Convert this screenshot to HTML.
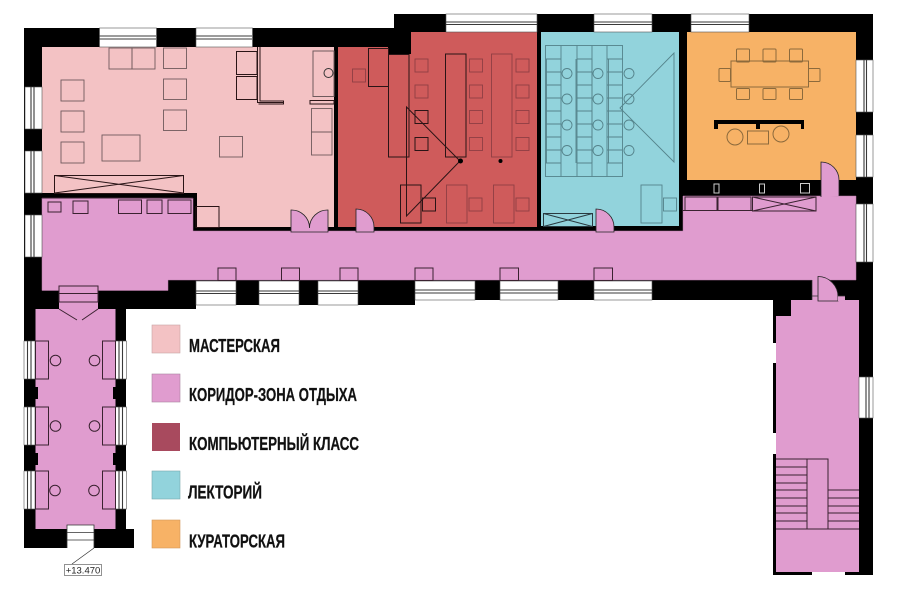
<!DOCTYPE html>
<html><head><meta charset="utf-8"><style>
html,body{margin:0;padding:0;background:#fff;width:900px;height:601px;overflow:hidden}
svg{display:block}
.w{fill:#fff;stroke:#555;stroke-width:.6}
.l{stroke:#3a3a3a;stroke-width:1.1;fill:none}
.m rect,.m circle,.m path{fill:none;stroke:#6f5a5d;stroke-width:.9}
.d rect,.d path{fill:none;stroke:#2a1416;stroke-width:1}
.f rect,.f circle{fill:none;stroke:#8f3f44;stroke-width:.9}
.t rect,.t circle,.t path{fill:none;stroke:#55838b;stroke-width:.9}
.o rect,.o circle{fill:none;stroke:#8c6a3c;stroke-width:1}
.c rect,.c path,.c circle,.c line{fill:none;stroke:#3a2230;stroke-width:1}
.lg{font-family:"Liberation Sans Narrow","Liberation Sans",sans-serif;font-weight:700;font-size:18px;fill:#111;stroke:#111;stroke-width:.25}
</style></head><body>
<svg width="900" height="601" viewBox="0 0 900 601" xmlns="http://www.w3.org/2000/svg">
<rect width="900" height="601" fill="#fff"/>
<polygon fill="#000" points="24,28 394,28 394,14 873,14 873,575 773,575 773,300 415,300 415,305 196,305 196,309 126,309 126,529 134,529 134,548 24,548"/>

<!-- rooms -->
<polygon fill="#f3c2c4" points="42,47 334,47 334,227 197,227 197,193 42,193"/>
<polygon fill="#cf5b5b" points="338,47 388,47 388,54 411,54 411,32 537,32 537,227 338,227"/>
<rect x="541" y="32" width="138" height="194" fill="#92d3dc"/>
<rect x="687" y="32" width="169" height="148" fill="#f7b266"/>
<polygon fill="#e09ccf" stroke="#b77aa8" stroke-width=".5" points="42,198 193,198 193,231 683,231 683,196 856,196 856,280 168,280 168,290.5 42,290.5"/>
<rect x="59" y="286" width="39" height="24" fill="#e09ccf"/>
<polygon fill="#e09ccf" points="35.5,309 115.5,309 115.5,387 113,387 113,399 115.5,399 115.5,453 113,453 113,465 115.5,465 115.5,529 35.5,529 35.5,465 38,465 38,453 35.5,453 35.5,399 38,399 38,387 35.5,387"/>
<polygon fill="#e09ccf" points="791,300 859,300 859,572 776,572 776,316 791,316"/>

<!-- doors -->
<path fill="#e09ccf" stroke="#222" stroke-width=".8" d="M291,232V210A18,18 0 0 1 309.5,228A18,18 0 0 1 328,210V232Z"/>
<path fill="#e09ccf" stroke="#222" stroke-width=".8" d="M356,232V209A18,18 0 0 1 374,227V232Z"/>
<path fill="#e09ccf" stroke="#222" stroke-width=".8" d="M596,232V209A18,18 0 0 1 614,227V232Z"/>
<path fill="#e09ccf" stroke="#222" stroke-width=".8" d="M821,197V162A18,18 0 0 1 839,180V196"/>
<path fill="#e09ccf" d="M812,279H818V301H812Z"/>
<path fill="#e09ccf" stroke="#222" stroke-width=".8" d="M818,301V276.5A20,20 0 0 1 838,297V301Z"/>
<rect x="838" y="296" width="7" height="5" fill="#e09ccf"/>
<path d="M812,296H818M838,296H845" stroke="#333" stroke-width=".7"/>
<path d="M812,280V300" stroke="#333" stroke-width=".7"/>

<!-- windows -->
<g class="w">
<rect x="99.500" y="28" width="57" height="19"/><rect x="196" y="28" width="56.500" height="19"/>
<rect x="446" y="14" width="91" height="18"/><rect x="594" y="14" width="58" height="18"/><rect x="691" y="14" width="58" height="18"/>
<rect x="25" y="87" width="17" height="42"/><rect x="25" y="151" width="17" height="42"/><rect x="25" y="215" width="17" height="42"/>
<rect x="856" y="60" width="17" height="52"/><rect x="856" y="135" width="17" height="42"/><rect x="856" y="204" width="17" height="58"/>
<rect x="196" y="281" width="40" height="24"/><rect x="259" y="281" width="40" height="24"/><rect x="318" y="281" width="40" height="24"/>
<rect x="415" y="281" width="60" height="19"/><rect x="500" y="281" width="58" height="19"/><rect x="594" y="281" width="58" height="19"/>
<rect x="859" y="377" width="14" height="41"/>
<rect x="24" y="341" width="11" height="38"/><rect x="24" y="407" width="11" height="38"/><rect x="24" y="471" width="11" height="38"/>
<rect x="115.500" y="341" width="11" height="38"/><rect x="115.500" y="407" width="11" height="38"/><rect x="115.500" y="471" width="11" height="38"/>
</g>
<path class="l" d="M99,36H156M99,39H156M196,36H252M196,39H252M446,22H537M446,24.500H537M594,22H652M594,24.500H652M691,22H749M691,24.500H749M31,87V129M34,87V129M31,151V193M34,151V193M31,215V257M34,215V257M864,60V112M866.500,60V112M864,135V177M866.500,135V177M864,204V262M866.500,204V262M196,291H236M196,293.500H236M259,291H299M259,293.500H299M318,291H358M318,293.500H358M415,290H475M415,293H475M500,290H558M500,293H558M594,290H652M594,293H652M866,377V418M869,377V418M27.500,341V379M31,341V379M27.500,407V445M31,407V445M27.500,471V509M31,471V509M119,341V379M122.500,341V379M119,407V445M122.500,407V445M119,471V509M122.500,471V509"/>

<!-- thin wall gaps -->
<rect x="772" y="343" width="4" height="20" fill="#fff"/>
<rect x="772" y="433" width="4" height="21" fill="#fff"/>
<rect x="812" y="572" width="33" height="4" fill="#fff"/>

<!-- masterskaya furniture -->
<g class="m">
<rect x="109" y="48" width="23" height="21"/><rect x="132" y="48" width="23" height="21"/>
<rect x="163.500" y="48" width="23" height="20.500"/><rect x="163.500" y="79" width="23" height="20.500"/><rect x="163.500" y="110" width="23" height="20.500"/>
<rect x="61" y="80" width="23" height="21"/><rect x="61" y="111" width="23" height="21"/><rect x="61" y="142" width="23" height="21"/>
<rect x="102" y="135" width="38" height="26"/><rect x="219.500" y="136.500" width="23" height="20.500"/>
<rect x="311.500" y="108.500" width="20.500" height="23.500"/><rect x="311.500" y="132" width="20.500" height="23"/>
</g>
<g class="d">
<rect x="236.500" y="51.500" width="20.500" height="23"/><rect x="236.500" y="76.500" width="20.500" height="23"/>
<path d="M257.500,47V102.500H283.500V104H258.500M260,47V101H283.500V104"/>
<rect x="310" y="100.500" width="24" height="3.500"/>
<rect x="54.500" y="175.500" width="129" height="18"/>
<path d="M54.500,175.500L183.500,193M183.500,175.500L54.500,193"/>
<rect x="196" y="206.500" width="23" height="21"/>
</g>
<rect x="313" y="51" width="21" height="45.500" fill="none" stroke="#6f5a5d"/>
<circle cx="328.500" cy="73" r="4.500" fill="none" stroke="#333"/>

<!-- computer room -->
<g class="d">
<rect x="368.500" y="48.500" width="20" height="38"/><rect x="388.500" y="54.500" width="20.500" height="102.500"/><rect x="445.500" y="54" width="20.500" height="103"/>
<rect x="415" y="110.500" width="13" height="13"/><rect x="415" y="137.500" width="13" height="13"/>
<rect x="400.500" y="185" width="20.500" height="38"/><rect x="422.500" y="198" width="13" height="13"/>
<path d="M406.500,107L460,161L406.500,216Z"/>
</g>
<g class="f">
<rect x="491.500" y="54" width="20.500" height="103"/>
<rect x="352.500" y="69" width="13" height="13"/>
<rect x="415" y="59" width="13" height="13"/><rect x="415" y="85" width="13" height="13"/>
<rect x="469.500" y="59" width="13" height="13"/><rect x="469.500" y="85" width="13" height="13"/><rect x="469.500" y="110.500" width="13" height="13"/><rect x="469.500" y="137.500" width="13" height="13"/>
<rect x="516" y="59" width="13" height="13"/><rect x="516" y="85" width="13" height="13"/><rect x="516" y="110.500" width="13" height="13"/><rect x="516" y="137.500" width="13" height="13"/>
<rect x="446.500" y="185" width="20.500" height="38"/><rect x="469" y="198" width="13" height="13"/>
<rect x="493.500" y="185" width="20.500" height="38"/><rect x="516" y="198" width="13" height="13"/>
</g>
<circle cx="460.500" cy="161" r="2.500"/><circle cx="500.500" cy="161" r="2"/>

<!-- lecture hall -->
<g class="t">
<rect x="545.500" y="45.500" width="77" height="131"/>
<path d="M561,45.500V176.500M577,45.500V176.500M592,45.500V176.500M607,45.500V176.500"/>
<path d="M545.500,59H561M577,59H592M607,59H623M545.500,163H561M577,163H592M607,163H623"/>
<path d="M546,72H561M546,85H561M546,98H561M546,111H561M546,124H561M546,137H561M546,150H561M577,72H592M577,85H592M577,98H592M577,111H592M577,124H592M577,137H592M577,150H592M607,72H622M607,85H622M607,98H622M607,111H622M607,124H622M607,137H622M607,150H622"/>
<path d="M546.500,59V163M576,59V163M592,59V163M608.500,59V163" stroke-width="1.500"/>
<circle cx="567" cy="73.500" r="5"/><circle cx="598" cy="73.500" r="5"/><circle cx="629" cy="73.500" r="5"/>
<circle cx="567" cy="99" r="5"/><circle cx="598" cy="99" r="5"/><circle cx="629" cy="99" r="5"/>
<circle cx="567" cy="125" r="5"/><circle cx="598" cy="125" r="5"/><circle cx="629" cy="125" r="5"/>
<circle cx="567" cy="150.500" r="5"/><circle cx="598" cy="150.500" r="5"/><circle cx="629" cy="150.500" r="5"/>
<rect x="641" y="185" width="21" height="38"/><rect x="663.500" y="198" width="13" height="13"/>
<path d="M620,108L674,53V162Z" stroke-width=".6"/>
</g>
<rect x="543.500" y="213.500" width="49" height="13" fill="none" stroke="#2a3a40"/>
<path d="M543.500,213.500L592.500,226.500M592.500,213.500L543.500,226.500" stroke="#2a3a40" fill="none"/>

<!-- curators -->
<g class="o">
<rect x="731" y="61" width="77.500" height="26"/>
<rect x="736.500" y="49" width="13" height="13" rx="1"/><rect x="763" y="49" width="13" height="13" rx="1"/><rect x="789.500" y="49" width="13" height="13" rx="1"/>
<rect x="736.500" y="88.500" width="13" height="11" rx="1"/><rect x="763" y="88.500" width="13" height="11" rx="1"/><rect x="789.500" y="88.500" width="13" height="11" rx="1"/>
<rect x="719" y="68.500" width="11.500" height="13" rx="1"/><rect x="808.500" y="68.500" width="11.500" height="13" rx="1"/>
<circle cx="735" cy="137" r="8"/><circle cx="781" cy="134" r="8"/><rect x="747.500" y="131" width="21" height="13"/>
</g>
<path d="M714,120H804V129H801V124H760V129H756V124H718V129H714Z" fill="#000"/>
<rect x="714" y="184" width="5" height="9" fill="none" stroke="#ccc"/>
<rect x="759.500" y="184" width="5" height="9" fill="none" stroke="#ccc"/>
<rect x="800.500" y="183.500" width="9" height="9.500" fill="none" stroke="#ccc"/>

<!-- corridor furniture -->
<g class="c">
<rect x="685" y="197" width="32" height="13.500"/><rect x="718" y="197" width="33" height="13.500"/>
<rect x="752.500" y="197" width="63.500" height="14"/>
<path d="M752.500,197L816,211M816,197L752.500,211"/>
<path d="M683,210.500H752" stroke-width="1"/>
<rect x="48" y="202" width="13" height="10" stroke="#6f4a66"/>
<rect x="73" y="201" width="15" height="12.500"/>
<rect x="118.500" y="200" width="23" height="13.500" stroke="#111" stroke-width="1.300"/>
<rect x="147" y="200" width="15" height="13.500"/>
<rect x="168" y="200" width="23" height="13.500" stroke="#111" stroke-width="1.300"/>
<path d="M42,198H193" stroke="#777"/>
<rect x="218" y="268" width="18" height="12.500"/><rect x="281.500" y="268" width="18" height="12.500"/>
<rect x="340" y="268" width="18" height="12.500"/><rect x="415" y="268" width="18" height="12.500"/>
<rect x="500" y="268" width="18.500" height="12.500"/><rect x="594" y="268" width="18.500" height="12.500"/>
<!-- wing -->
<rect x="59" y="286" width="39" height="16"/><path d="M59,293.500H98M59,309L77,320M98,309L82,320"/>
<rect x="35.500" y="341" width="13" height="38"/><rect x="35.500" y="407" width="13" height="38"/><rect x="35.500" y="471" width="13" height="38"/>
<rect x="102.500" y="341" width="13" height="38"/><rect x="102.500" y="407" width="13" height="38"/><rect x="102.500" y="471" width="13" height="38"/>
<circle cx="55.500" cy="360.500" r="5.300"/><circle cx="94.500" cy="360.500" r="5.300"/>
<circle cx="55.500" cy="426" r="5.300"/><circle cx="94.500" cy="426" r="5.300"/>
<circle cx="55" cy="490.500" r="5.300"/><circle cx="94" cy="490.500" r="5.300"/>
<!-- stairs -->
<path d="M776,459H828V490M807,459V529M776,467H807M776,475H807M776,483H807M776,490H807M776,498H807M776,506H807M776,513H807M776,521H807M776,529H859M828,490H859M828,498H859M828,506H859M828,513H859M828,521H859M828,490V529"/>
</g>

<!-- wing door -->
<rect x="67" y="525" width="27" height="23.500" fill="#fff"/>
<path d="M67,548V525H94V548M67,532.500H94M67,540H94" fill="none" stroke="#333" stroke-width=".8"/>
<path d="M94,548L72,564" stroke="#333" stroke-width=".7"/>
<rect x="64.500" y="564.500" width="37" height="11" fill="#fff" stroke="#777" stroke-width=".8"/>
<text x="83" y="573.500" font-family="'Liberation Sans',sans-serif" font-size="9.500" text-anchor="middle" fill="#222">+13.470</text>

<!-- legend -->
<rect x="152" y="325" width="28" height="28" fill="#f3c2c4" stroke="#c9a3a5" stroke-width=".6"/>
<rect x="152" y="374" width="28" height="28" fill="#e09ccf" stroke="#a883a0" stroke-width=".6"/>
<rect x="152" y="423" width="28" height="28" fill="#a84a5e"/>
<rect x="152" y="471" width="28" height="28" fill="#92d3dc" stroke="#7aa8ae" stroke-width=".6"/>
<rect x="152" y="520" width="28" height="28" fill="#f7b266" stroke="#d2975a" stroke-width=".6"/>
<text class="lg" x="189" y="352" textLength="91" lengthAdjust="spacingAndGlyphs">МАСТЕРСКАЯ</text>
<text class="lg" x="189" y="401" textLength="168" lengthAdjust="spacingAndGlyphs">КОРИДОР-ЗОНА ОТДЫХА</text>
<text class="lg" x="189" y="450" textLength="170" lengthAdjust="spacingAndGlyphs">КОМПЬЮТЕРНЫЙ КЛАСС</text>
<text class="lg" x="188" y="498.500" textLength="74" lengthAdjust="spacingAndGlyphs">ЛЕКТОРИЙ</text>
<text class="lg" x="189" y="547.500" textLength="96" lengthAdjust="spacingAndGlyphs">КУРАТОРСКАЯ</text>
</svg>
</body></html>
